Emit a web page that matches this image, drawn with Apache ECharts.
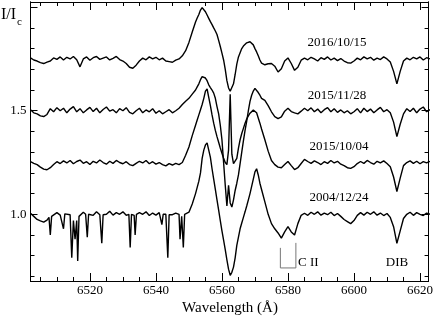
<!DOCTYPE html>
<html>
<head>
<meta charset="utf-8">
<script src="https://cdn.jsdelivr.net/npm/echarts@6/dist/echarts.min.js"></script>
<style>
  html, body { margin: 0; padding: 0; background: #fff; }
  #chart { width: 436px; height: 319px; }
</style>
</head>
<body>
<div id="chart"></div>
<script>
// wavelength grid (Å): 1 Å steps, 0.5 Å steps across the H-alpha core
var wavelength = [
  6502,6503,6504,6505,6506,6507,6508,6509,6510,6511,
  6512,6513,6514,6515,6516,6517,6518,6519,6520,6521,
  6522,6523,6524,6525,6526,6527,6528,6529,6530,6531,
  6532,6533,6534,6535,6536,6537,6538,6539,6540,6541,
  6542,6543,6544,6545,6546,6547,6548,6549,6550,6551,
  6552,
  6552.5,6553,6553.5,6554,6554.5,6555,6555.5,6556,6556.5,6557,
  6557.5,6558,6558.5,6559,6559.5,6560,6560.5,6561,6561.5,6562,
  6562.5,6563,6563.5,6564,6564.5,6565,6565.5,6566,6566.5,6567,
  6567.5,6568,6568.5,6569,6569.5,6570,6570.5,6571,6571.5,6572,
  6573,6574,6575,6576,6577,6578,6579,6580,6581,6582,
  6583,6584,6585,6586,6587,6588,6589,6590,6591,6592,
  6593,6594,6595,6596,6597,6598,6599,6600,6601,6602,
  6603,6604,6605,6606,6607,6608,6609,6610,6611,6612,
  6613,6614,6615,6616,6617,6618,6619,6620,6621,6622,
  6623
];

// normalised flux I/Ic of each epoch
var flux20161015 = [
  1.005,0.995,0.990,0.982,0.978,0.985,0.990,1.005,0.998,1.010,
  0.995,1.008,1.000,1.012,0.996,0.962,1.000,1.010,0.994,1.006,
  1.012,0.998,1.004,1.010,0.995,1.003,1.012,0.997,0.990,0.978,
  0.960,0.955,0.970,0.990,1.004,0.996,1.010,1.000,1.008,0.996,
  1.004,0.990,0.987,0.984,0.994,1.000,1.015,1.040,1.080,1.130,
  1.178,
  1.198,1.215,1.236,1.248,1.240,1.228,1.212,1.196,1.180,1.166,
  1.150,1.135,1.118,1.090,1.060,1.028,0.995,0.950,0.895,0.860,
  0.844,0.850,0.880,0.925,0.975,1.010,1.030,1.050,1.062,1.070,
  1.078,1.085,1.083,1.078,1.068,1.050,1.034,1.015,0.995,0.980,
  0.972,0.977,0.978,0.965,0.937,0.953,0.990,1.005,0.978,0.945,
  0.960,0.994,1.004,0.996,1.008,1.000,0.990,1.006,0.998,1.010,
  0.995,1.004,0.992,1.002,0.990,0.982,0.980,0.990,1.004,0.996,
  1.010,1.000,1.008,0.994,1.004,0.997,1.010,1.000,0.985,0.940,
  0.880,0.940,0.990,1.004,0.996,1.008,1.000,1.010,0.995,1.006,
  1.000
];
var flux20151128 = [
  1.005,0.990,0.985,0.975,0.972,0.982,1.010,0.995,1.015,1.000,
  1.012,0.990,1.008,1.020,0.995,1.010,0.990,1.004,1.016,0.996,
  1.012,0.990,1.006,1.018,0.998,1.005,0.990,1.010,1.000,1.015,
  0.992,0.985,1.000,1.012,0.990,1.004,0.995,1.010,0.988,1.000,
  0.985,0.995,1.005,0.990,1.000,1.012,1.030,1.046,1.060,1.080,
  1.100,
  1.115,1.130,1.150,1.165,1.170,1.158,1.145,1.125,1.112,1.100,
  1.085,1.060,1.020,0.985,0.930,0.860,0.750,0.640,0.540,0.640,
  0.555,0.535,0.570,0.615,0.650,0.690,0.745,0.800,0.855,0.905,
  0.950,1.000,1.045,1.075,1.095,1.108,1.100,1.088,1.075,1.060,
  1.050,1.025,0.995,0.972,0.962,0.970,0.998,1.012,0.996,0.990,
  0.985,0.998,1.012,1.000,1.014,0.995,1.008,0.990,1.005,1.015,
  0.995,1.010,0.992,1.004,0.990,1.000,0.985,0.995,1.010,0.990,
  1.012,0.996,1.008,0.990,1.004,1.016,0.995,1.005,0.990,0.945,
  0.875,0.935,0.985,1.010,0.996,1.012,0.990,1.008,1.018,0.995,
  1.005
];
var flux20151004 = [
  1.004,0.996,0.990,0.978,0.968,0.965,0.975,0.990,1.004,0.995,
  1.008,0.998,1.010,0.994,1.005,1.012,0.996,1.004,0.990,1.006,
  0.998,1.012,1.000,0.992,1.006,0.996,1.010,1.000,0.994,1.004,
  0.990,0.985,0.996,1.006,0.998,1.010,0.994,1.004,0.992,1.000,
  0.990,0.984,0.995,0.988,0.996,0.990,1.000,1.035,1.075,1.130,
  1.180,
  1.205,1.230,1.255,1.280,1.310,1.345,1.355,1.315,1.275,1.230,
  1.190,1.155,1.125,1.098,1.070,1.045,1.020,1.000,0.990,1.060,
  1.330,1.040,0.995,0.990,1.020,1.070,1.110,1.140,1.165,1.190,
  1.210,1.225,1.238,1.247,1.253,1.256,1.240,1.215,1.190,1.162,
  1.110,1.055,1.010,0.990,0.978,0.975,0.990,1.005,0.985,0.966,
  0.975,0.995,1.015,1.005,0.996,1.008,1.000,0.990,1.004,0.996,
  1.010,0.998,1.006,0.992,0.985,0.975,0.972,0.980,0.995,1.005,
  0.996,1.010,1.000,0.992,1.006,0.998,1.008,0.995,0.980,0.930,
  0.860,0.925,0.985,1.000,1.008,0.996,1.006,0.994,1.004,0.998,
  1.006
];

// 2004 spectrum: blue part sampled finer to keep the narrow telluric lines
var wavelength2004Blue = [
  6502,6503,6504,6505,6506,6507,6507.6,6508,6508.4,6509,
  6510,6511,6511.6,6512,6512.4,6513,6514,6514.5,6515,6515.5,
  6516,6516.3,6516.7,6517,6518,6518.7,6519.2,6519.6,6520,6521,
  6522,6523,6523.3,6523.6,6524,6525,6526,6527,6528,6529,
  6530,6531,6531.8,6532.2,6532.6,6533,6533.4,6533.7,6534.1,6535,
  6536,6537,6538,6539,6540,6541,6541.5,6541.8,6542.2,6543,
  6543.3,6543.6,6544,6545,6546,6547,6547.3,6547.8,6548.3,6548.7,
  6549,6550,6551,6552
];
var flux2004Blue = [
  1.005,0.990,0.975,0.968,0.962,0.972,0.985,0.900,0.990,0.995,
  1.008,0.996,1.000,0.930,1.002,1.004,0.998,0.790,0.970,0.880,
  0.970,0.775,0.990,0.995,1.010,1.000,0.890,1.000,1.005,0.995,
  1.012,0.998,1.000,0.860,0.998,1.000,1.015,0.996,1.008,1.000,
  1.012,0.995,1.000,0.840,1.000,1.000,0.995,0.900,1.000,1.008,
  1.000,1.012,0.994,1.006,0.996,1.008,1.000,0.950,1.000,1.000,
  1.000,0.790,0.998,0.998,1.006,1.000,0.880,0.990,0.840,1.000,
  1.000,1.010,1.050,1.100
];
var flux20041224Red = [
  1.130,1.160,1.200,1.270,1.310,1.335,1.345,1.310,1.275,1.220,
  1.170,1.120,1.070,1.020,0.970,0.920,0.875,0.830,0.780,0.735,
  0.705,0.720,0.745,0.790,0.850,0.890,0.930,0.958,0.985,1.012,
  1.040,1.070,1.100,1.135,1.170,1.205,1.220,1.190,1.150,1.120,
  1.060,1.000,0.955,0.930,0.910,0.885,0.915,0.940,0.915,0.900,
  0.955,0.995,1.005,0.995,1.010,1.000,1.012,0.996,1.006,0.998,
  1.010,0.994,1.004,0.990,0.975,0.965,0.955,0.970,0.995,1.008,
  0.996,1.010,1.000,1.012,0.996,1.006,0.994,1.004,0.985,0.940,
  0.860,0.920,0.980,1.000,1.010,0.995,1.008,1.000,0.994,1.006,
  1.000
];

// epochs, their vertical offsets in the plot
var epochs = ['2016/10/15', '2015/11/28', '2015/10/04', '2004/12/24'];
var offsets = [0.75, 0.5, 0.25, 0];
var waves = [
    wavelength, wavelength, wavelength,
    wavelength2004Blue.concat(wavelength.slice(51))
];
var spectra = [
    flux20161015, flux20151128, flux20151004,
    flux2004Blue.concat(flux20041224Red)
];

// axis ticks
var xMajorTicks = [6520, 6540, 6560, 6580, 6600, 6620];
var xMinorTicks = [6505, 6510, 6515, 6525, 6530, 6535, 6545, 6550, 6555, 6565, 6570, 6575,
                   6585, 6590, 6595, 6605, 6610, 6615];
var yLabelTicks = [1.0, 1.5];
var yMajorTicks = [1.0, 1.5, 2.0];
var yMinorTicks = [0.7, 0.8, 0.9, 1.1, 1.2, 1.3, 1.4, 1.6, 1.7, 1.8, 1.9];

// C II doublet marker (wavelength, I/Ic)
var ciiMarkX = [6577.7, 6577.7, 6582.4, 6582.4];
var ciiMarkY = [0.838, 0.741, 0.741, 0.862];

var FONT = '"Liberation Serif", "Times New Roman", serif';

var myChart = echarts.init(document.getElementById('chart'));

function xAxisDef(pos, ticks, len, showLabel) {
    return {
        type: 'value', position: pos, min: 6502, max: 6622.6,
        axisLine: { show: true, lineStyle: { color: '#000', width: 1 } },
        axisTick: { show: true, inside: true, length: len, customValues: ticks,
                    lineStyle: { color: '#000', width: 1 } },
        axisLabel: { show: showLabel, customValues: ticks, color: '#000', fontFamily: FONT,
                     fontSize: 13, margin: 3,
                     formatter: function (v) { return String(v); } },
        splitLine: { show: false }
    };
}
function yAxisDef(pos, ticks, len, showLabel) {
    return {
        type: 'value', position: pos, min: 0.678, max: 2.025,
        axisLine: { show: true, lineStyle: { color: '#000', width: 1 } },
        axisTick: { show: true, inside: true, length: len, customValues: ticks,
                    lineStyle: { color: '#000', width: 1 } },
        axisLabel: { show: showLabel, customValues: yLabelTicks, color: '#000', fontFamily: FONT,
                     fontSize: 13, margin: 4,
                     formatter: function (v) { return v.toFixed(1); } },
        splitLine: { show: false }
    };
}

var series = spectra.map(function (flux, i) {
    return {
        name: epochs[i],
        type: 'line',
        showSymbol: false,
        lineStyle: { color: '#000', width: 1.4 },
        data: waves[i].map(function (w, k) { return [w, flux[k] + offsets[i]]; })
    };
});
series.push({
    name: 'C II',
    type: 'line',
    showSymbol: false,
    lineStyle: { color: '#777', width: 1 },
    data: ciiMarkX.map(function (w, k) { return [w, ciiMarkY[k]]; })
});

var option = {
    animation: false,
    backgroundColor: '#fff',
    grid: { left: 30.5, right: 7, top: 2, bottom: 38, containLabel: false },
    xAxis: [
        xAxisDef('bottom', xMajorTicks, 8, true),
        xAxisDef('bottom', xMinorTicks, 4, false),
        xAxisDef('top', xMajorTicks, 8, false),
        xAxisDef('top', xMinorTicks, 4, false)
    ],
    yAxis: [
        yAxisDef('left', yMajorTicks, 7, true),
        yAxisDef('left', yMinorTicks, 4, false),
        yAxisDef('right', yMajorTicks, 7, false),
        yAxisDef('right', yMinorTicks, 4, false)
    ],
    series: series,
    graphic: [
        { type: 'text', x: 1, y: 15, style: { text: 'I/I', font: '16px ' + FONT, fill: '#000', verticalAlign: 'middle' } },
        { type: 'text', x: 17, y: 22, style: { text: 'c', font: '11px ' + FONT, fill: '#000', verticalAlign: 'middle' } },
        { type: 'text', x: 337, y: 43, style: { text: epochs[0], font: '13px ' + FONT, fill: '#000', align: 'center', verticalAlign: 'middle' } },
        { type: 'text', x: 337, y: 96, style: { text: epochs[1], font: '13px ' + FONT, fill: '#000', align: 'center', verticalAlign: 'middle' } },
        { type: 'text', x: 339, y: 147, style: { text: epochs[2], font: '13px ' + FONT, fill: '#000', align: 'center', verticalAlign: 'middle' } },
        { type: 'text', x: 339, y: 198, style: { text: epochs[3], font: '13px ' + FONT, fill: '#000', align: 'center', verticalAlign: 'middle' } },
        { type: 'text', x: 298, y: 263, style: { text: 'C II', font: '13px ' + FONT, fill: '#000', verticalAlign: 'middle' } },
        { type: 'text', x: 397, y: 263, style: { text: 'DIB', font: '13px ' + FONT, fill: '#000', align: 'center', verticalAlign: 'middle' } },
        { type: 'text', x: 230, y: 308, style: { text: 'Wavelength (Å)', font: '15px ' + FONT, fill: '#000', align: 'center', verticalAlign: 'middle' } }
    ]
};
myChart.setOption(option);
</script>
</body>
</html>
